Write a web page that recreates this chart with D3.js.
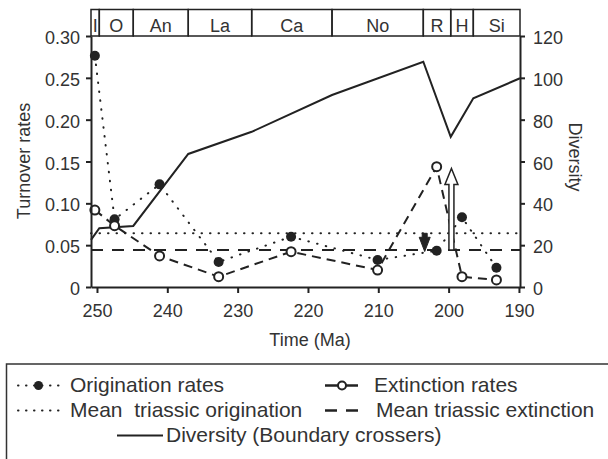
<!DOCTYPE html>
<html>
<head>
<meta charset="utf-8">
<script src="https://cdn.jsdelivr.net/npm/d3@7"></script>
<style>
  body { margin: 0; background: #fff; }
  svg { display: block; font-family: "Liberation Sans", Arial, sans-serif; }
  .axis text { font-size: 18px; fill: #333; }
  .axis path, .axis line { stroke: #222; stroke-width: 2; }
</style>
</head>
<body>
<svg width="608" height="459"></svg>
<script>
// stage boundaries (Ma) and names
var stageNames = ["I", "O", "An", "La", "Ca", "No", "R", "H", "Si"];
var stageBounds = [250.85, 249.67, 244.84, 237.02, 228.0, 216.58, 203.6, 199.7, 196.49, 189.85];

// sample times (Ma)
var times = [250.3, 247.5, 241.1, 232.7, 222.4, 210.1, 201.7, 198.1, 193.2];
var origination = [0.2765, 0.0809, 0.1227, 0.0299, 0.0601, 0.0323, 0.0434, 0.0833, 0.0231];
var extinction = [0.092, 0.0733, 0.0371, 0.0123, 0.0422, 0.0203, 0.1438, 0.0123, 0.0084];

var meanOrigination = 0.0642;
var meanExtinction = 0.0442;

// diversity (boundary crossers)
var divTimes = [250.85, 249.67, 244.84, 237.02, 228.0, 216.58, 203.6, 199.7, 196.49, 189.85];
var diversity = [22.5, 28.1, 29.2, 63.6, 74.2, 91.8, 107.7, 71.8, 90.2, 99.8];

// arrows: time, from, to (turnover rate units)
var arrowDown = {t: 203.4, from: meanOrigination, to: 0.0424};
var arrowUp = {t: 199.6, from: meanExtinction, to: 0.1416};

var svg = d3.select("svg"),
    plotLeft = 91, plotRight = 520, plotTop = 36, plotBottom = 287;

var x = d3.scaleLinear().domain([250.85, 189.85]).range([plotLeft, plotRight]),
    yL = d3.scaleLinear().domain([0, 0.30]).range([plotBottom, plotTop]),
    yR = d3.scaleLinear().domain([0, 120]).range([plotBottom, plotTop]);

var ink = "#222";

// stage band
var band = svg.append("g");
for (var i = 0; i < stageNames.length; i++) {
    var x0 = x(stageBounds[i]), x1 = x(stageBounds[i + 1]);
    band.append("rect")
        .attr("x", x0).attr("y", 9.5)
        .attr("width", x1 - x0).attr("height", plotTop - 9.5)
        .attr("fill", "none").attr("stroke", ink).attr("stroke-width", 1.5);
    band.append("text")
        .attr("x", (x0 + x1) / 2).attr("y", 31.5)
        .attr("text-anchor", "middle")
        .attr("font-size", 18).attr("fill", "#333")
        .text(stageNames[i]);
}

// mean lines
svg.append("line")
    .attr("x1", x(250.85)).attr("x2", x(189.85))
    .attr("y1", yL(meanOrigination)).attr("y2", yL(meanOrigination))
    .attr("stroke", ink).attr("stroke-width", 2)
    .attr("stroke-linecap", "round")
    .attr("stroke-dasharray", "0.5,8");
svg.append("line")
    .attr("x1", x(250.85)).attr("x2", x(189.85))
    .attr("y1", yL(meanExtinction)).attr("y2", yL(meanExtinction))
    .attr("stroke", ink).attr("stroke-width", 2)
    .attr("stroke-dasharray", "12,9");

// diversity
var divLine = d3.line()
    .x(function (d, i) { return x(divTimes[i]); })
    .y(function (d) { return yR(d); });
svg.append("path")
    .datum(diversity)
    .attr("d", divLine)
    .attr("fill", "none").attr("stroke", ink).attr("stroke-width", 2);

var rateLine = d3.line()
    .x(function (d, i) { return x(times[i]); })
    .y(function (d) { return yL(d); });

svg.append("path")
    .datum(origination)
    .attr("d", rateLine)
    .attr("fill", "none").attr("stroke", ink).attr("stroke-width", 2)
    .attr("stroke-linecap", "round")
    .attr("stroke-dasharray", "0.5,8.5");

svg.append("path")
    .datum(extinction)
    .attr("d", rateLine)
    .attr("fill", "none").attr("stroke", ink).attr("stroke-width", 2)
    .attr("stroke-dasharray", "9,6");

// arrows
var ux = x(arrowUp.t), uy0 = yL(arrowUp.from), uy1 = yL(arrowUp.to);
svg.append("path")
    .attr("d", "M" + (ux - 2.5) + "," + uy0 + "V" + (uy1 + 16) + "H" + (ux - 6.5) +
        "L" + ux + "," + uy1 + "L" + (ux + 6.5) + "," + (uy1 + 16) + "H" + (ux + 2.5) + "V" + uy0 + "Z")
    .attr("fill", "#fff").attr("stroke", ink).attr("stroke-width", 1.5);

var dx = x(arrowDown.t), dy0 = yL(arrowDown.from), dy1 = yL(arrowDown.to);
svg.append("path")
    .attr("d", "M" + (dx - 2.5) + "," + dy0 + "V" + (dy0 + 4) + "H" + (dx - 5.5) +
        "L" + dx + "," + dy1 + "L" + (dx + 5.5) + "," + (dy0 + 4) + "H" + (dx + 2.5) + "V" + dy0 + "Z")
    .attr("fill", ink).attr("stroke", ink).attr("stroke-width", 1);

// markers
svg.append("g").selectAll("circle")
    .data(origination)
    .enter().append("circle")
    .attr("cx", function (d, i) { return x(times[i]); })
    .attr("cy", function (d) { return yL(d); })
    .attr("r", 5)
    .attr("fill", ink);

svg.append("g").selectAll("circle")
    .data(extinction)
    .enter().append("circle")
    .attr("cx", function (d, i) { return x(times[i]); })
    .attr("cy", function (d) { return yL(d); })
    .attr("r", 4.5)
    .attr("fill", "#fff").attr("stroke", ink).attr("stroke-width", 2);

// axes
svg.append("g")
    .attr("class", "axis")
    .attr("transform", "translate(" + plotLeft + ",0)")
    .call(d3.axisLeft(yL).tickValues([0, 0.05, 0.10, 0.15, 0.20, 0.25, 0.30])
        .tickFormat(function (d) { return d === 0 ? "0" : d3.format(".2f")(d); })
        .tickSize(5).tickSizeOuter(0).tickPadding(6))
    .selectAll("text").attr("dy", "0.42em");

svg.append("g")
    .attr("class", "axis")
    .attr("transform", "translate(" + plotRight + ",0)")
    .call(d3.axisRight(yR).tickValues([0, 20, 40, 60, 80, 100, 120])
        .tickSize(5).tickSizeOuter(0).tickPadding(8))
    .selectAll("text").attr("dy", "0.42em");

svg.append("g")
    .attr("class", "axis")
    .attr("transform", "translate(0," + plotBottom + ")")
    .call(d3.axisBottom(x).tickValues([250, 240, 230, 220, 210, 200, 190])
        .tickSize(6).tickSizeOuter(0).tickPadding(11));

svg.append("text")
    .attr("x", 310).attr("y", 346)
    .attr("text-anchor", "middle").attr("font-size", 18).attr("fill", "#333")
    .text("Time (Ma)");

svg.append("text")
    .attr("transform", "translate(30,161) rotate(-90)")
    .attr("text-anchor", "middle").attr("font-size", 18).attr("fill", "#333")
    .text("Turnover rates");

svg.append("text")
    .attr("transform", "translate(569,157) rotate(90)")
    .attr("text-anchor", "middle").attr("font-size", 18).attr("fill", "#333")
    .text("Diversity");

// legend
var lg = svg.append("g");
lg.append("rect")
    .attr("x", 6.5).attr("y", 364).attr("width", 620).attr("height", 120)
    .attr("fill", "none").attr("stroke", "#333").attr("stroke-width", 1.5);

var legendItems = [
    {label: "Origination rates", x: 70, y: 391.5, kind: "orig"},
    {label: "Mean  triassic origination", x: 70, y: 416.5, kind: "meanOrig"},
    {label: "Diversity (Boundary crossers)", x: 166, y: 441.5, kind: "div"},
    {label: "Extinction rates", x: 374, y: 391.5, kind: "ext"},
    {label: "Mean triassic extinction", x: 376, y: 416.5, kind: "meanExt"}
];

legendItems.forEach(function (d) {
    var cy = d.y - 6;
    if (d.kind === "orig" || d.kind === "meanOrig") {
        lg.append("line")
            .attr("x1", 18).attr("x2", 60).attr("y1", cy).attr("y2", cy)
            .attr("stroke", ink).attr("stroke-width", 2)
            .attr("stroke-linecap", "round").attr("stroke-dasharray", "0.5,7.5");
        if (d.kind === "orig") {
            lg.append("circle").attr("cx", 38.5).attr("cy", cy).attr("r", 4.5).attr("fill", ink);
        }
    } else if (d.kind === "div") {
        lg.append("line")
            .attr("x1", 117).attr("x2", 163).attr("y1", cy).attr("y2", cy)
            .attr("stroke", ink).attr("stroke-width", 2);
    } else if (d.kind === "ext") {
        lg.append("line")
            .attr("x1", 325).attr("x2", 358).attr("y1", cy).attr("y2", cy)
            .attr("stroke", ink).attr("stroke-width", 2.5);
        lg.append("circle").attr("cx", 342).attr("cy", cy).attr("r", 4)
            .attr("fill", "#fff").attr("stroke", ink).attr("stroke-width", 2);
    } else if (d.kind === "meanExt") {
        lg.append("line")
            .attr("x1", 325).attr("x2", 358).attr("y1", cy).attr("y2", cy)
            .attr("stroke", ink).attr("stroke-width", 2.5)
            .attr("stroke-dasharray", "12,9");
    }
    lg.append("text")
        .attr("x", d.x).attr("y", d.y)
        .attr("font-size", 21).attr("fill", "#333")
        .style("white-space", "pre")
        .text(d.label);
});
</script>
</body>
</html>
